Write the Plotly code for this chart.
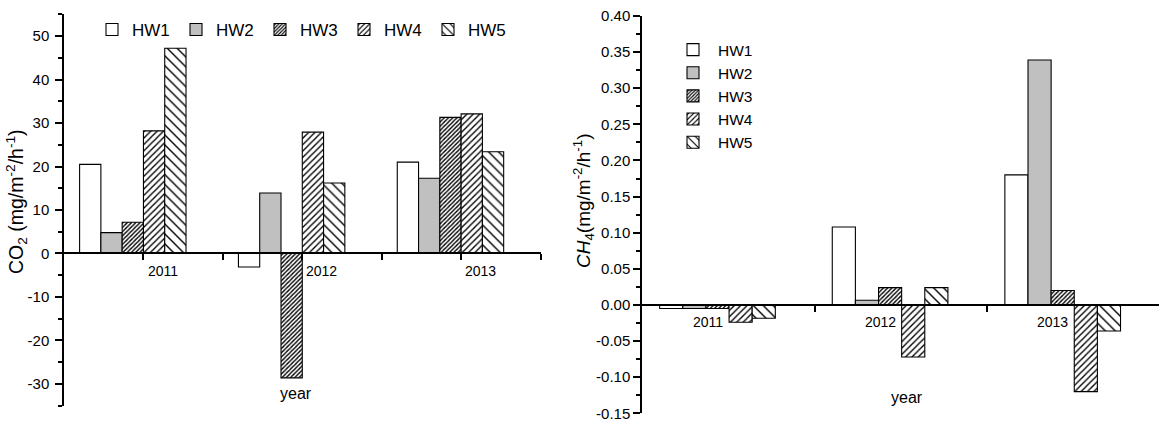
import plotly.graph_objects as go

# ---------------- data ----------------
years = [2011, 2012, 2013]
series = ["HW1", "HW2", "HW3", "HW4", "HW5"]

co2_hw1 = [20.5, -3.1, 21.0]
co2_hw2 = [4.8, 13.9, 17.3]
co2_hw3 = [7.2, -28.6, 31.3]
co2_hw4 = [28.2, 27.9, 32.1]
co2_hw5 = [47.2, 16.2, 23.4]

ch4_hw1 = [-0.005, 0.108, 0.180]
ch4_hw2 = [-0.005, 0.0065, 0.339]
ch4_hw3 = [-0.005, 0.024, 0.020]
ch4_hw4 = [-0.024, -0.072, -0.120]
ch4_hw5 = [-0.0185, 0.024, -0.036]

co2_ticks = [-30, -20, -10, 0, 10, 20, 30, 40, 50]
ch4_ticks = [-0.15, -0.10, -0.05, 0.00, 0.05, 0.10, 0.15, 0.20, 0.25, 0.30, 0.35, 0.40]

# ---------------- styles ----------------
FONT = "Arial, Liberation Sans, sans-serif"
W, H = 1159, 422
styles = {
    "HW1": dict(color="white", pattern=dict(shape="")),
    "HW2": dict(color="#c0c0c0", pattern=dict(shape="")),
    "HW3": dict(color="white", pattern=dict(shape="/", size=3, solidity=0.45, fgcolor="black", bgcolor="white", fillmode="replace")),
    "HW4": dict(color="white", pattern=dict(shape="/", size=4.5, solidity=0.3, fgcolor="black", bgcolor="white", fillmode="replace")),
    "HW5": dict(color="white", pattern=dict(shape="\\", size=7, solidity=0.2, fgcolor="black", bgcolor="white", fillmode="replace")),
}

fig = go.Figure()

co2 = [co2_hw1, co2_hw2, co2_hw3, co2_hw4, co2_hw5]
ch4 = [ch4_hw1, ch4_hw2, ch4_hw3, ch4_hw4, ch4_hw5]

for name, vals in zip(series, co2):
    st = styles[name]
    fig.add_trace(go.Bar(
        x=years, y=vals, name=name, xaxis="x", yaxis="y", legend="legend",
        marker=dict(color=st["color"], pattern=st["pattern"], line=dict(color="black", width=1.1)),
    ))
for name, vals in zip(series, ch4):
    st = styles[name]
    fig.add_trace(go.Bar(
        x=years, y=vals, name=name, xaxis="x2", yaxis="y2", legend="legend2",
        marker=dict(color=st["color"], pattern=st["pattern"], line=dict(color="black", width=1.1)),
    ))

# ---------------- geometry ----------------
L_xdom = [64 / W, 540.5 / W]
L_ydom = [(H - 405.7) / H, (H - 14.3) / H]
L_yr = [-35, 55]
L_x0 = 2011 - 0.4332
L_xr = [L_x0, L_x0 + 3.0]

R_xdom = [642 / W, 1.0]
R_ydom = [(H - 413.3) / H, (H - 16) / H]
R_yr = [-0.15, 0.40]
R_x0 = 2011 - 0.4374
R_xr = [R_x0, R_x0 + (W - 642) / 172.6]

L_pos = L_ydom[0] + (0 - L_yr[0]) / (L_yr[1] - L_yr[0]) * (L_ydom[1] - L_ydom[0])
R_pos = R_ydom[0] + (0 - R_yr[0]) / (R_yr[1] - R_yr[0]) * (R_ydom[1] - R_ydom[0])

L_xticks = [L_x0 + 0.5 * k for k in range(1, 7)]
R_xticks = [R_x0 + 1.0 * k for k in range(1, 4)]

line_common = dict(showgrid=False, zeroline=False, showline=True, linecolor="black", linewidth=1.5,
                   ticks="outside", tickcolor="black", tickwidth=1.5, automargin=False)
tickfont = dict(family=FONT, size=15, color="black")

fig.update_layout(
    template="none",
    width=W, height=H,
    margin=dict(l=0, r=0, t=0, b=0, autoexpand=False),
    paper_bgcolor="white", plot_bgcolor="rgba(0,0,0,0)",
    barmode="group", bargap=0.33, bargroupgap=0,
    font=dict(family=FONT, color="black"),
    showlegend=True,
    xaxis=dict(domain=L_xdom, range=L_xr, anchor="free", position=L_pos,
               tickvals=L_xticks, showticklabels=False, ticklen=6, **line_common),
    yaxis=dict(domain=L_ydom, range=L_yr, anchor="x", tickvals=co2_ticks,
               ticktext=[str(v) for v in co2_ticks], ticklen=7, tickfont=tickfont, ticklabelstandoff=3,
               minor=dict(dtick=5, tick0=0, ticks="outside", ticklen=4, tickcolor="black", tickwidth=1.5),
               **line_common),
    xaxis2=dict(domain=R_xdom, range=R_xr, anchor="free", position=R_pos,
                tickvals=R_xticks, showticklabels=False, ticklen=6, **line_common),
    yaxis2=dict(domain=R_ydom, range=R_yr, anchor="x2", tickvals=ch4_ticks,
                ticktext=[f"{v:.2f}".replace("-0.00", "0.00") for v in ch4_ticks], ticklen=7, tickfont=tickfont,
                minor=dict(dtick=0.025, tick0=0, ticks="outside", ticklen=4, tickcolor="black", tickwidth=1.5),
                **line_common),
    legend=dict(orientation="h", x=92 / W, y=1 - 12 / H, xanchor="left", yanchor="top",
                font=dict(family=FONT, size=17, color="black"), bgcolor="rgba(0,0,0,0)",
                entrywidth=39, entrywidthmode="pixels", itemwidth=30, tracegroupgap=0),
    legend2=dict(orientation="v", x=668 / W, y=1 - 33 / H, xanchor="left", yanchor="top",
                 font=dict(family=FONT, size=15.5, color="black"), bgcolor="rgba(0,0,0,0)",
                 itemwidth=40, tracegroupgap=0),
)

ann = []
for yv in years:
    ann.append(dict(x=yv + 0.19, y=0, xref="x", yref="y", text=str(yv), showarrow=False,
                    xanchor="center", yanchor="middle", yshift=-18,
                    font=dict(family=FONT, size=14, color="black")))
    ann.append(dict(x=yv - 0.057, y=0, xref="x2", yref="y2", text=str(yv), showarrow=False,
                    xanchor="center", yanchor="middle", yshift=-17,
                    font=dict(family=FONT, size=14, color="black")))
ann.append(dict(x=296 / W, y=1 - 393 / H, xref="paper", yref="paper", text="year", showarrow=False,
                xanchor="center", yanchor="middle", font=dict(family=FONT, size=16, color="black")))
ann.append(dict(x=907 / W, y=1 - 397 / H, xref="paper", yref="paper", text="year", showarrow=False,
                xanchor="center", yanchor="middle", font=dict(family=FONT, size=16, color="black")))
ann.append(dict(x=17 / W, y=1 - 202 / H, xref="paper", yref="paper", textangle=-90, showarrow=False,
                xanchor="center", yanchor="middle",
                text="CO<sub>2</sub> (mg/m<sup>-2</sup>/h<sup>-1</sup>)",
                font=dict(family=FONT, size=19.5, color="black")))
ann.append(dict(x=583 / W, y=1 - 201 / H, xref="paper", yref="paper", textangle=-90, showarrow=False,
                xanchor="center", yanchor="middle",
                text="<i>CH</i><sub>4</sub>(mg/m<sup>-2</sup>/h<sup>-1</sup>)",
                font=dict(family=FONT, size=19, color="black")))
fig.update_layout(annotations=ann)

fig.write_html("out.html", config={"displayModeBar": False},
               post_script="document.body.style.margin='0';")
